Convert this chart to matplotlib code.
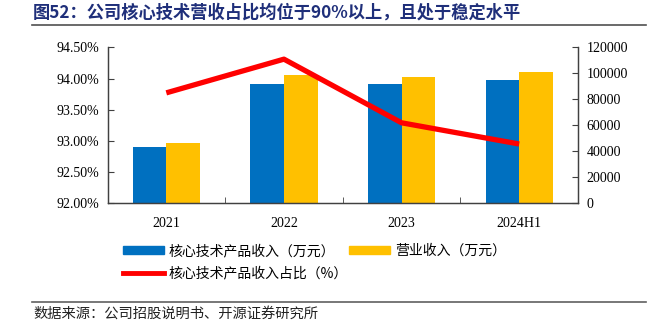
import numpy as np
import matplotlib
matplotlib.use('Agg')
import matplotlib.pyplot as plt
from matplotlib.lines import Line2D
from matplotlib.patches import Patch

plt.rcParams['font.family'] = ['Noto Sans CJK SC', 'DejaVu Sans']
plt.rcParams['axes.unicode_minus'] = False

categories = ['2021', '2022', '2023', '2024H1']
core_revenue = [43100, 91800, 91800, 94800]      # 核心技术产品收入（万元）
total_revenue = [46200, 98700, 96900, 101200]    # 营业收入（万元）
core_share = [93.77, 94.31, 93.29, 92.95]        # 核心技术产品收入占比（%）

left_ticks = [92.0, 92.5, 93.0, 93.5, 94.0, 94.5]
right_ticks = [0, 20000, 40000, 60000, 80000, 100000, 120000]

blue = '#0070C0'
yellow = '#FFC000'
red = '#FF0000'
navy = '#1F2F7A'
serif = 'Liberation Serif'

fig = plt.figure(figsize=(6.54, 3.26), dpi=100)
ax = fig.add_axes([107.5 / 654, 1 - 203.3 / 326, 470.5 / 654, 156 / 326])
ax2 = ax.twinx()

x = np.arange(len(categories))
w = 0.286
ax2.bar(x - w / 2, core_revenue, w, color=blue, edgecolor='none', zorder=2)
ax2.bar(x + w / 2, total_revenue, w, color=yellow, edgecolor='none', zorder=2)
ax2.set_ylim(0, 120000)
ax2.set_yticks(right_ticks)
ax2.set_yticklabels([str(t) for t in right_ticks], fontfamily=serif, fontsize=10)

ax.set_zorder(ax2.get_zorder() + 1)
ax.patch.set_visible(False)
ax.plot(x, core_share, color=red, lw=3.8, solid_capstyle='butt', zorder=3)
ax.set_ylim(92, 94.5)
ax.set_yticks(left_ticks)
ax.set_yticklabels(['%.2f%%' % t for t in left_ticks], fontfamily=serif, fontsize=10)
ax.set_xlim(-0.5, 3.5)
ax.set_xticks(x)
ax.set_xticklabels(categories, fontfamily=serif, fontsize=10)
ax.tick_params(axis='x', length=0, pad=10)
ax.set_xticks([0.5, 1.5, 2.5], minor=True)
ax.tick_params(axis='x', which='minor', direction='in', length=4, color='#404040')
ax.tick_params(axis='y', direction='in', length=4, color='#404040', pad=6)
ax2.tick_params(axis='y', direction='in', length=4, color='#404040', pad=6)

for a in (ax, ax2):
    a.spines['top'].set_visible(False)
    for s in ('left', 'right', 'bottom'):
        a.spines[s].set_color('#404040')
        a.spines[s].set_linewidth(0.9)

# legend
handles = [Patch(color=blue), Patch(color=yellow), Line2D([], [], color=red, lw=3.5)]
labels = ['核心技术产品收入（万元）', '营业收入（万元）', '核心技术产品收入占比（%）']
leg_pos = [(110, 251), (336, 251), (110, 273)]
for h, lab, (px, py) in zip(handles, labels, leg_pos):
    lg = fig.legend([h], [lab], loc='center left', bbox_to_anchor=(px / 654, 1 - py / 326),
                    frameon=False, fontsize=10, handlelength=3.0, handleheight=0.5,
                    handletextpad=0.35)

# title and source
fig.text(33 / 654, 1 - 13 / 326, '图52：公司核心技术营收占比均位于90%以上，且处于稳定水平',
         fontsize=12.4, fontweight='bold', color=navy, va='center', ha='left')
fig.add_artist(Line2D([32 / 654, 646 / 654], [1 - 25 / 326] * 2, color='#505050', lw=1.2))
fig.add_artist(Line2D([32 / 654, 646 / 654], [1 - 302 / 326] * 2, color='#606060', lw=1.2))
fig.text(33 / 654, 1 - 314 / 326, '数据来源：公司招股说明书、开源证券研究所',
         fontsize=10.3, color='#222222', va='center', ha='left')

fig.savefig('out.png', dpi=100)
